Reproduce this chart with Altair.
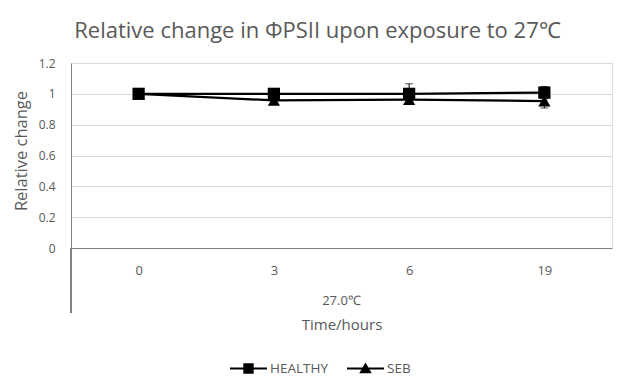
import altair as alt
import pandas as pd

times = ["0", "3", "6", "19"]
series_names = ["HEALTHY", "SEB"]
healthy_mean = [1.0, 1.0, 1.0, 1.008]
healthy_err = [0.0, 0.02, 0.065, 0.04]
seb_mean = [1.0, 0.957, 0.962, 0.953]
seb_err = [0.0, 0.02, 0.02, 0.045]
y_ticks = [0, 0.2, 0.4, 0.6, 0.8, 1.0, 1.2]

rows = []
for name, means, errs in [("HEALTHY", healthy_mean, healthy_err), ("SEB", seb_mean, seb_err)]:
    for t, m, e in zip(times, means, errs):
        rows.append({"time": t, "series": name, "mean": m, "lo": m - e, "hi": m + e})
df = pd.DataFrame(rows)

W, H = 541, 185
FONT = "Open Sans"
GRAY = "#595959"
AX = "#808080"

x = alt.X("time:O", sort=times, scale=alt.Scale(type="point", padding=0.5),
          axis=alt.Axis(title="Time/hours", labelAngle=0, ticks=False, grid=False,
                        domainColor=AX, labelColor=GRAY, labelFontSize=13, labelFont=FONT,
                        labelPadding=16, titleFont=FONT, titleFontSize=15, titleColor=GRAY,
                        titleFontWeight="normal", titlePadding=40))
y_scale = alt.Scale(domain=[0, 1.2], nice=False)
y_axis = alt.Axis(title="Relative change", values=y_ticks, format="~g", ticks=False,
                  labelOverlap=False, domainColor=AX, gridColor="#d9d9d9", labelColor=GRAY,
                  labelFontSize=12, labelFont=FONT, labelPadding=16, titleFont=FONT,
                  titleFontSize=16.5, titleColor=GRAY, titleFontWeight="normal", titlePadding=9,
                  titleY=H / 2 - 5)


def Y(field):
    return alt.Y(f"{field}:Q", scale=y_scale, axis=y_axis)


base = alt.Chart(df)

rules = base.mark_rule(color="black", strokeWidth=1).encode(x=x, y=Y("lo"), y2="hi:Q")
cap_lo = base.mark_tick(color="black", size=8, thickness=1).encode(x=x, y=Y("lo"))
cap_hi = base.mark_tick(color="black", size=8, thickness=1).encode(x=x, y=Y("hi"))
lines = base.mark_line(color="black", strokeWidth=2.25).encode(x=x, y=Y("mean"), detail="series:N")
points = base.mark_point(filled=True, size=150, color="black", opacity=1).encode(
    x=x, y=Y("mean"),
    shape=alt.Shape("series:N", scale=alt.Scale(domain=series_names, range=["square", "triangle-up"]),
                    legend=None))

legend_paths = [
    "M-1,-0.055H1V0.055H-1ZM-0.28,-0.28H0.28V0.28H-0.28Z",
    "M-1,-0.055H1V0.055H-1ZM0,-0.32L0.34,0.25H-0.34Z",
]
legend_layer = base.transform_filter("false").mark_point(filled=True, color="black").encode(
    x=x, y=Y("mean"),
    shape=alt.Shape("series:N", scale=alt.Scale(domain=series_names, range=legend_paths),
                    legend=alt.Legend(title=None, orient="none", direction="horizontal",
                                      legendX=159, legendY=287, symbolSize=1369,
                                      symbolStrokeWidth=0, symbolFillColor="black",
                                      symbolOpacity=1,
                                      labelFont=FONT, labelFontSize=13.5, labelColor=GRAY,
                                      labelOffset=3, columnPadding=19)))

axis_ext = alt.Chart(df).mark_rule(color=AX, strokeWidth=1).encode(
    x=alt.value(0), y=alt.value(H), y2=alt.value(250))
group_label = alt.Chart(pd.DataFrame({"t": ["27.0℃"]})).mark_text(
    font=FONT, fontSize=13, color=GRAY, baseline="middle", align="center").encode(
    x=alt.value(W / 2), y=alt.value(238), text="t:N")

chart = alt.layer(rules, cap_lo, cap_hi, lines, points, legend_layer, axis_ext, group_label).resolve_scale(
    shape="independent"
).properties(
    width=W, height=H,
    autosize=alt.AutoSizeParams(type="none"),
    padding={"left": 63, "top": 55, "right": 13, "bottom": 129},
    title=alt.TitleParams("Relative change in ΦPSII upon exposure to 27℃", font=FONT, fontSize=22,
                          fontWeight="normal", color=GRAY, anchor="middle", dx=-24, offset=14),
).configure_view(stroke=None).configure(background="white")

chart.save("out.html", embed_options={"renderer": "svg", "actions": False})
